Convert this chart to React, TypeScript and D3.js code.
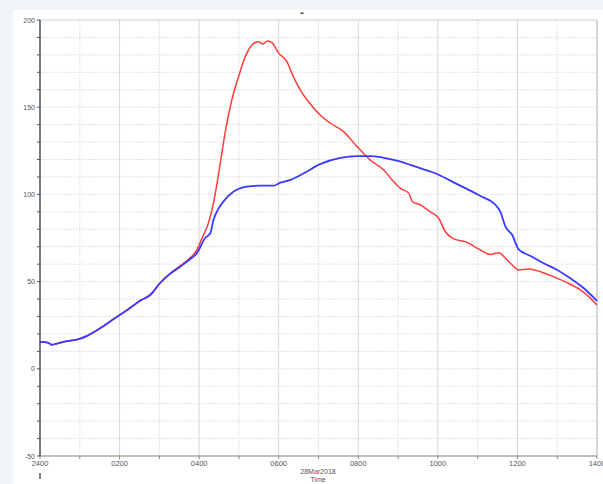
import React from "react";
import * as d3 from "d3";

const blueHours = [0, 0.2, 0.3, 0.43, 0.68, 1.01, 1.21, 1.51, 1.84, 2.19, 2.52, 2.77, 3.02, 3.27, 3.52, 3.77, 3.94, 4.15, 4.28, 4.36, 4.49, 4.65, 4.86, 5.2, 5.53, 5.87, 6.04, 6.29, 6.62, 7.04, 7.55, 7.97, 8.3, 8.64, 8.97, 9.31, 9.64, 9.98, 10.31, 10.65, 11.07, 11.45, 11.57, 11.7, 11.87, 12.03, 12.33, 12.66, 13.0, 13.33, 13.67, 14.0];
const blueValues = [15.4, 15.0, 13.8, 14.5, 15.8, 17.3, 19.2, 23.2, 28.4, 33.7, 39.0, 42.3, 49.2, 54.4, 58.5, 62.8, 66.2, 75, 77.7, 85.3, 92, 97, 101.5, 104.4, 105, 105, 106.7, 108.3, 112, 117.4, 121, 122, 122, 121, 119.3, 116.9, 114.4, 111.7, 107.9, 104, 99.1, 93.9, 90.1, 81.5, 76.7, 68.5, 64.7, 60.5, 56.7, 51.9, 46.2, 38.9];

const redHours = [0, 0.2, 0.3, 0.43, 0.68, 1.01, 1.21, 1.51, 1.84, 2.19, 2.52, 2.77, 3.02, 3.27, 3.52, 3.77, 3.94, 4.07, 4.23, 4.36, 4.53, 4.65, 4.82, 4.99, 5.16, 5.37, 5.49, 5.6, 5.72, 5.83, 6.0, 6.21, 6.33, 6.54, 6.79, 7.04, 7.3, 7.63, 7.97, 8.3, 8.64, 8.85, 9.06, 9.27, 9.36, 9.56, 9.81, 10.02, 10.19, 10.44, 10.69, 11.07, 11.32, 11.53, 11.7, 11.87, 12.03, 12.28, 12.58, 12.91, 13.25, 13.58, 13.84, 14.0];
const redValues = [15.4, 15.0, 13.8, 14.5, 15.8, 17.3, 19.2, 23.2, 28.4, 33.7, 39.2, 42.5, 49.4, 54.8, 59, 63.5, 68, 74.8, 83.4, 95, 117.8, 135, 154, 167.5, 179, 186.6, 187.6, 186.2, 188, 187, 181, 176, 169.4, 160, 152, 145.5, 140.8, 136, 127.4, 119.7, 114, 108.3, 103.5, 100.6, 95.8, 94, 90, 86.3, 78.6, 74.2, 72.9, 68.1, 65.6, 66.6, 63.4, 59.5, 56.7, 57.2, 55.7, 52.8, 49.4, 45.2, 40.4, 36.6];

const xTickHours = [0, 2, 4, 6, 8, 10, 12, 14];
const xTickLabels = ["2400", "0200", "0400", "0600", "0800", "1000", "1200", "1400"];
const yTickValues = [-50, 0, 50, 100, 150, 200];
const yTickLabels = ["-50", "0", "50", "100", "150", "200"];
const dateLabel = "28Mar2018";
const axisTitle = "Time";
const chartTitle = "-";

export default function App() {
  const W = 603, H = 484;
  const left = 40, right = 597, top = 20, bottom = 456;
  const x = d3.scaleLinear().domain([0, 14]).range([left, right]);
  const y = d3.scaleLinear().domain([-50, 200]).range([bottom, top]);
  const gen = d3.line<[number, number]>().x(d => x(d[0])).y(d => y(d[1])).curve(d3.curveMonotoneX);
  const blue = gen(blueHours.map((h, i) => [h, blueValues[i]]) as [number, number][]) || "";
  const red = gen(redHours.map((h, i) => [h, redValues[i]]) as [number, number][]) || "";
  const hourGrid = d3.range(0, 15);
  const yGrid = d3.range(-50, 201, 10);
  const font = "'Liberation Sans', Arial, sans-serif";
  return (
    <svg width={W} height={H} style={{ position: "absolute", left: 0, top: 0 }}>
      <rect x={0} y={0} width={W} height={H} fill="#f1f5fa" />
      <rect x={13} y={10} width={W - 13} height={H - 10} fill="#ffffff" />
      <text x={302} y={17} textAnchor="middle" fontFamily={font} fontSize={12} fontWeight="bold" fill="#555">{chartTitle}</text>
      {yGrid.map(v => (
        <line key={"h" + v} x1={left} x2={right} y1={y(v)} y2={y(v)} stroke="#e2e2e2" strokeWidth={1} strokeDasharray="2,1" />
      ))}
      {hourGrid.map(h => (
        <line key={"v" + h} x1={x(h)} x2={x(h)} y1={top} y2={bottom} stroke={h % 2 === 0 ? "#d6d6d6" : "#e2e2e2"} strokeWidth={1} strokeDasharray={h % 2 === 0 ? undefined : "2,1"} />
      ))}
      <line x1={left} x2={right} y1={top} y2={top} stroke="#d6d6d6" />
      <line x1={right} x2={right} y1={top} y2={bottom} stroke="#c0c0c0" />
      <line x1={left} x2={right} y1={bottom} y2={bottom} stroke="#8a8a8a" />
      {hourGrid.map(h => (
        <line key={"t" + h} x1={x(h)} x2={x(h)} y1={bottom} y2={bottom + 3} stroke="#888" />
      ))}
      <line x1={left} x2={left} y1={top} y2={bottom} stroke="#555" strokeWidth={1.5} />
      {yGrid.map(v => (
        <line key={"yt" + v} x1={left - 3} x2={left} y1={y(v)} y2={y(v)} stroke="#555" />
      ))}
      {yTickValues.map((v, i) => (
        <text key={"yl" + v} x={left - 5} y={y(v) + 2.5} textAnchor="end" fontFamily={font} fontSize={7} fill="#555">{yTickLabels[i]}</text>
      ))}
      {xTickHours.map((h, i) => (
        <text key={"xl" + h} x={x(h)} y={bottom + 10} textAnchor="middle" fontFamily={font} fontSize={7.5} fill="#555">{xTickLabels[i]}</text>
      ))}
      <line x1={left} x2={left} y1={bottom + 17} y2={bottom + 23} stroke="#555" strokeWidth={1.5} />
      <text x={318} y={bottom + 18} textAnchor="middle" fontFamily={font} fontSize={7} fill="#555">{dateLabel}</text>
      <text x={318} y={bottom + 26} textAnchor="middle" fontFamily={font} fontSize={7} fill="#555">{axisTitle}</text>
      <path d={red} fill="none" stroke="#ff3b3b" strokeWidth={1.5} />
      <path d={blue} fill="none" stroke="#3a3aff" strokeWidth={1.8} />
    </svg>
  );
}
